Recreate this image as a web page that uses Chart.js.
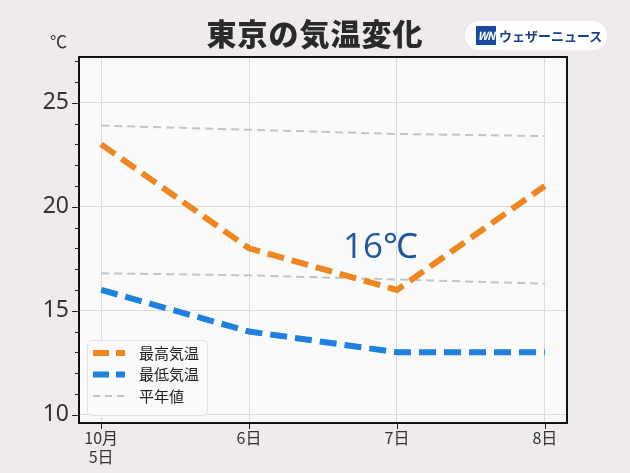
<!DOCTYPE html>
<html><head><meta charset="utf-8">
<script src="https://cdn.jsdelivr.net/npm/chart.js@4"></script>
<style>
html,body{margin:0;padding:0;background:#efeaeb;}
#wrap{position:relative;width:630px;height:473px;font-family:"Noto Sans CJK JP","Noto Sans",sans-serif;}
#c{position:absolute;left:0;top:0;}
#title{position:absolute;left:0;width:630px;top:10px;text-align:center;font-size:30px;font-weight:900;color:#2a2a2a;letter-spacing:1px;}
#unit{position:absolute;left:50px;top:28px;font-size:17px;color:#333;}
#logo{position:absolute;left:465px;top:21px;width:142px;height:29px;background:#fff;border-radius:15px;}
#logo .wn{position:absolute;left:11px;top:5px;width:20px;height:19px;background:#1a4aa0;color:#fff;font-size:11px;font-weight:bold;font-style:italic;line-height:19px;text-align:center;letter-spacing:-1px;}
#logo .txt{position:absolute;left:34px;top:5px;font-size:13px;color:#1a3f8a;line-height:19px;font-weight:bold;}
#ann{position:absolute;left:343px;top:221px;font-size:35px;color:#1c57a3;font-family:"Open Sans","Noto Sans",sans-serif;}
</style></head>
<body><div id="wrap">
<canvas id="c" width="630" height="473"></canvas>
<div id="title">東京の気温変化</div>
<div id="unit">℃</div>
<div id="logo"><div class="wn">WN</div><div class="txt">ウェザーニュース</div></div>
<div id="ann">16℃</div>
</div>
<script>
const categories = [["10月","5日"],"6日","7日","8日"];
const maxTemp = [23, 18, 16, 21];
const minTemp = [16, 14, 13, 13];
const normalMax = [23.9, 23.7, 23.5, 23.4];
const normalMin = [16.8, 16.7, 16.5, 16.3];
const legendLabels = ["最高気温","最低気温","平年値"];

const toPts = arr => arr.map((v,i)=>({x:i,y:v}));
const ORANGE = '#f0861f', BLUE = '#1f80dd', GRAY = '#c4c4c4';

const plotBg = {
  id:'plotBg',
  beforeDraw(chart){
    const {ctx, chartArea:a} = chart;
    ctx.save(); ctx.fillStyle='#fafafa';
    ctx.fillRect(a.left,a.top,a.right-a.left,a.bottom-a.top); ctx.restore();
  },
  afterDatasetsDraw(chart){
    const {ctx, chartArea:a, scales} = chart;
    ctx.save();
    ctx.strokeStyle='#111'; ctx.lineWidth=2;
    ctx.strokeRect(a.left,a.top,a.right-a.left,a.bottom-a.top);
    const ys = scales.y;
    ctx.lineWidth=1; ctx.strokeStyle='#222';
    for(let v=10; v<=27; v++){
      const p = Math.round(ys.getPixelForValue(v))+0.5;
      const len = v%5===0 ? 7 : 4;
      ctx.beginPath(); ctx.moveTo(a.left-len,p); ctx.lineTo(a.left,p); ctx.stroke();
    }
    const xs = scales.x;
    for(let i=0;i<categories.length;i++){
      const p = Math.round(xs.getPixelForValue(i))+0.5;
      ctx.beginPath(); ctx.moveTo(p,a.bottom); ctx.lineTo(p,a.bottom+6); ctx.stroke();
    }
    const lx=87, ly=340, lw=120, lh=75;
    ctx.fillStyle='rgba(250,250,250,0.9)'; ctx.strokeStyle='#e2e2e2'; ctx.lineWidth=1;
    ctx.beginPath(); ctx.roundRect(lx+0.5,ly+0.5,lw,lh,4); ctx.fill(); ctx.stroke();
    const items=[{c:ORANGE,w:6,d:[16,7]},{c:BLUE,w:6,d:[16,7]},{c:GRAY,w:2,d:[7,5]}];
    ctx.font='15px "Noto Sans CJK JP"'; ctx.textBaseline='middle';
    items.forEach((it,k)=>{
      const yy = ly+13+k*21.5;
      ctx.strokeStyle=it.c; ctx.lineWidth=it.w; ctx.setLineDash(it.d);
      ctx.beginPath(); ctx.moveTo(lx+6,yy); ctx.lineTo(lx+38,yy); ctx.stroke();
      ctx.setLineDash([]);
      ctx.fillStyle='#222'; ctx.fillText(legendLabels[k], lx+52, yy);
    });
    ctx.restore();
  }
};

new Chart(document.getElementById('c'),{
  type:'line',
  data:{datasets:[
    {data:toPts(normalMax),borderColor:GRAY,borderWidth:2,borderDash:[8,5],pointRadius:0,order:3},
    {data:toPts(normalMin),borderColor:GRAY,borderWidth:2,borderDash:[8,5],pointRadius:0,order:3},
    {data:toPts(minTemp),borderColor:BLUE,borderWidth:6,borderDash:[17,8],pointRadius:0,order:1},
    {data:toPts(maxTemp),borderColor:ORANGE,borderWidth:6,borderDash:[17,8],pointRadius:0,order:0}
  ]},
  options:{
    responsive:false,animation:false,
    layout:{padding:{top:57,right:63,left:0,bottom:0}},
    plugins:{legend:{display:false},tooltip:{enabled:false}},
    scales:{
      x:{type:'linear',min:-0.15,max:3.15,
        afterBuildTicks(s){s.ticks=[0,1,2,3].map(v=>({value:v}));},
        afterFit(s){s.height=50;},
        grid:{color:'#dcdcdc',drawTicks:false,lineWidth:1},
        border:{display:false},
        ticks:{padding:6,color:'#333',font:{size:16,family:'"Noto Sans CJK JP"',lineHeight:1.15},
          callback:(v)=>categories[v],maxRotation:0,autoSkip:false}
      },
      y:{min:9.6,max:27.2,
        afterBuildTicks(s){s.ticks=[10,15,20,25].map(v=>({value:v}));},
        afterFit(s){s.width=79;},
        grid:{color:'#dcdcdc',drawTicks:false,lineWidth:1},
        border:{display:false},
        ticks:{padding:10,color:'#333',font:{size:23,family:'"Noto Sans","Open Sans"'}}
      }
    }
  },
  plugins:[plotBg]
});
</script>
</body></html>
